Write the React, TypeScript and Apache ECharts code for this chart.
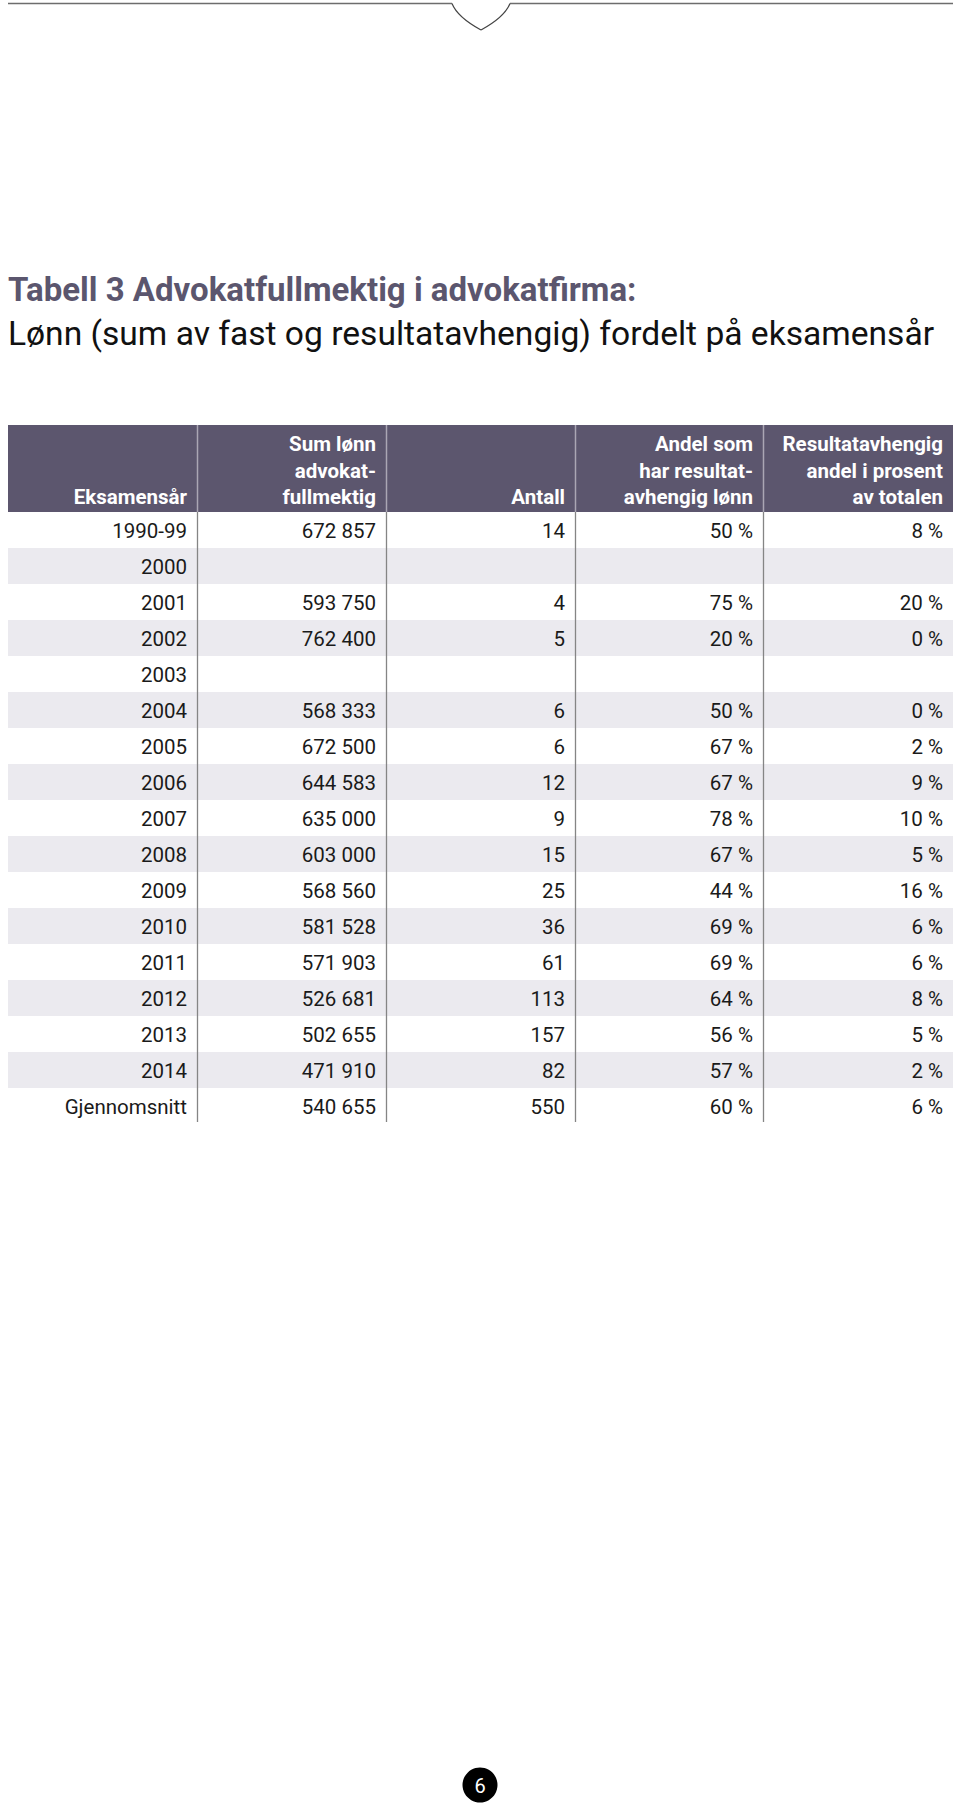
import React, { useEffect, useRef } from "react";
import * as echarts from "echarts";

const titleLine1 = "Tabell 3 Advokatfullmektig i advokatfirma:";
const titleLine2 = "Lønn (sum av fast og resultatavhengig) fordelt på eksamensår";

const headers: string[][] = [
  ["Eksamensår"],
  ["Sum lønn", "advokat-", "fullmektig"],
  ["Antall"],
  ["Andel som", "har resultat-", "avhengig lønn"],
  ["Resultatavhengig", "andel i prosent", "av totalen"],
];

const years = [
  "1990-99", "2000", "2001", "2002", "2003", "2004", "2005", "2006", "2007",
  "2008", "2009", "2010", "2011", "2012", "2013", "2014", "Gjennomsnitt",
];
const sumLonn: (number | null)[] = [
  672857, null, 593750, 762400, null, 568333, 672500, 644583, 635000,
  603000, 568560, 581528, 571903, 526681, 502655, 471910, 540655,
];
const antall: (number | null)[] = [
  14, null, 4, 5, null, 6, 6, 12, 9, 15, 25, 36, 61, 113, 157, 82, 550,
];
const andelResultat: (number | null)[] = [
  50, null, 75, 20, null, 50, 67, 67, 78, 67, 44, 69, 69, 64, 56, 57, 60,
];
const resultatProsent: (number | null)[] = [
  8, null, 20, 0, null, 0, 2, 9, 10, 5, 16, 6, 6, 8, 5, 2, 6,
];
const pageNumber = "6";

const fmtNum = (n: number | null) =>
  n === null ? "" : String(n).replace(/\B(?=(\d{3})+(?!\d))/g, " ");
const fmtPct = (n: number | null) => (n === null ? "" : n + " %");

export default function App() {
  const ref = useRef<HTMLDivElement>(null);
  useEffect(() => {
    document.body.style.margin = "0";
    const chart = echarts.init(ref.current!, undefined, { renderer: "svg" });
    const font = "Roboto, 'Noto Sans', sans-serif";
    const edges = [8, 197, 386, 575, 763, 953];
    const headTop = 425;
    const headBottom = 512;
    const rowH = 36;
    const nRows = years.length;
    const tableBottom = headBottom + rowH * nRows - 2;
    const els: any[] = [];

    // top decoration
    els.push({ type: "line", shape: { x1: 8, y1: 3.5, x2: 452, y2: 3.5 }, style: { stroke: "#6d6d6d", lineWidth: 1.6 } });
    els.push({ type: "line", shape: { x1: 510, y1: 3.5, x2: 953, y2: 3.5 }, style: { stroke: "#6d6d6d", lineWidth: 1.6 } });
    els.push({ type: "bezierCurve", shape: { x1: 452, y1: 3.5, cpx1: 457, cpy1: 16, cpx2: 470, cpy2: 24, x2: 481, y2: 30 }, style: { stroke: "#444", lineWidth: 1.2, fill: null } });
    els.push({ type: "bezierCurve", shape: { x1: 510, y1: 3.5, cpx1: 505, cpy1: 16, cpx2: 492, cpy2: 24, x2: 481, y2: 30 }, style: { stroke: "#444", lineWidth: 1.2, fill: null } });

    // title
    els.push({ type: "text", x: 8, y: 289, style: { text: titleLine1, font: `bold 33px ${font}`, fill: "#5b566e", textVerticalAlign: "middle" } });
    els.push({ type: "text", x: 8, y: 333, style: { text: titleLine2, font: `33.6px ${font}`, fill: "#111111", textVerticalAlign: "middle" } });

    // header band
    els.push({ type: "rect", shape: { x: edges[0], y: headTop, width: edges[5] - edges[0], height: headBottom - headTop }, style: { fill: "#5c566e" } });

    // zebra bands
    for (let i = 0; i < nRows; i++) {
      if (i % 2 === 1) {
        els.push({ type: "rect", shape: { x: edges[0], y: headBottom + i * rowH, width: edges[5] - edges[0], height: rowH }, style: { fill: "#ebeaef" } });
      }
    }

    // dividers
    for (let c = 1; c < 5; c++) {
      els.push({ type: "line", shape: { x1: edges[c] + 0.5, y1: headTop, x2: edges[c] + 0.5, y2: headBottom }, style: { stroke: "#aaa6b4", lineWidth: 1.5 } });
      els.push({ type: "line", shape: { x1: edges[c] + 0.5, y1: headBottom, x2: edges[c] + 0.5, y2: tableBottom }, style: { stroke: "#858585", lineWidth: 1.3 } });
    }

    // header text
    headers.forEach((lines, c) => {
      const n = lines.length;
      lines.forEach((t, k) => {
        els.push({
          type: "text",
          x: edges[c + 1] - 10,
          y: 497 - (n - 1 - k) * 26.5,
          style: { text: t, font: `bold 20.5px ${font}`, fill: "#ffffff", textAlign: "right", textVerticalAlign: "middle" },
        });
      });
    });

    // body
    const cols = [
      years,
      sumLonn.map(fmtNum),
      antall.map(fmtNum),
      andelResultat.map(fmtPct),
      resultatProsent.map(fmtPct),
    ];
    for (let i = 0; i < nRows; i++) {
      for (let c = 0; c < 5; c++) {
        const t = cols[c][i];
        if (!t) continue;
        els.push({
          type: "text",
          x: edges[c + 1] - 10,
          y: headBottom + i * rowH + 19,
          style: { text: t, font: `20.5px ${font}`, fill: "#1a1a1a", textAlign: "right", textVerticalAlign: "middle" },
        });
      }
    }

    // page number
    els.push({ type: "circle", shape: { cx: 480, cy: 1785, r: 17.5 }, style: { fill: "#000000" } });
    els.push({ type: "text", x: 480, y: 1786, style: { text: pageNumber, font: `20px ${font}`, fill: "#ffffff", textAlign: "center", textVerticalAlign: "middle" } });

    chart.setOption({ animation: false, graphic: { elements: els } });
    return () => chart.dispose();
  }, []);
  return <div ref={ref} style={{ position: "absolute", left: 0, top: 0, width: 960, height: 1805, background: "#fff" }} />;
}
